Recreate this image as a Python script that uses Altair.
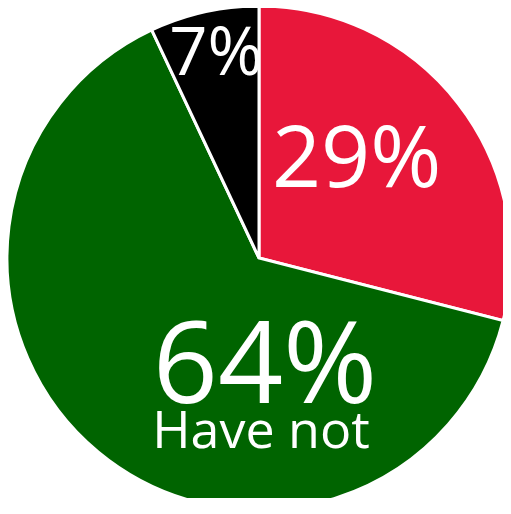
import math
import altair as alt
import pandas as pd

categories = ["Have", "Have not", "Not sure"]
values = [29, 64, 7]
labels = ["29%", "64%", "7%"]
order_idx = [0, 1, 2]
colors = ["#E8173A", "#006400", "#000000"]

df = pd.DataFrame({"category": categories, "value": values,
                   "label": labels, "order": order_idx})

CX, CY = 251, 250
theta_scale = alt.Scale(domain=[0, 100], range=[0, 2 * math.pi])

base = alt.Chart(df)

pie = base.mark_arc(outerRadius=252, stroke="white", strokeWidth=3).encode(
    theta=alt.Theta("value:Q", stack=True, scale=theta_scale),
    color=alt.Color("category:N", scale=alt.Scale(domain=categories, range=colors), legend=None),
    order=alt.Order("order:Q"),
    x=alt.value(CX), y=alt.value(CY),
)


def text_layer(cat, size, radius, field="label", dx=0, dy=0):
    return (
        base.transform_window(cum="sum(value)", sort=[alt.SortField("order")])
        .transform_calculate(mid="datum.cum - datum.value / 2")
        .transform_filter(alt.datum.category == cat)
        .mark_text(radius=radius, fontSize=size, font="Open Sans", color="white",
                   baseline="alphabetic", align="center", dx=dx, dy=dy)
        .encode(theta=alt.Theta("mid:Q", stack=None, scale=theta_scale),
                text=alt.Text(f"{field}:N"),
                x=alt.value(CX), y=alt.value(CY))
    )


t_red = text_layer("Have", 86, 121, dx=2, dy=3)
t_black = text_layer("Not sure", 67, 188, dx=-2)
t_green = text_layer("Have not", 114, 0, dx=6, dy=145)
t_green2 = text_layer("Have not", 52, 0, field="category", dx=2, dy=190)

chart = (
    alt.layer(pie, t_red, t_black, t_green, t_green2)
    .properties(width=495, height=490, padding=0, background="white",
                autosize=alt.AutoSizeParams(type="none"))
    .configure_view(stroke=None)
)

chart.save("out.html", embed_options={"renderer": "svg", "actions": False})
